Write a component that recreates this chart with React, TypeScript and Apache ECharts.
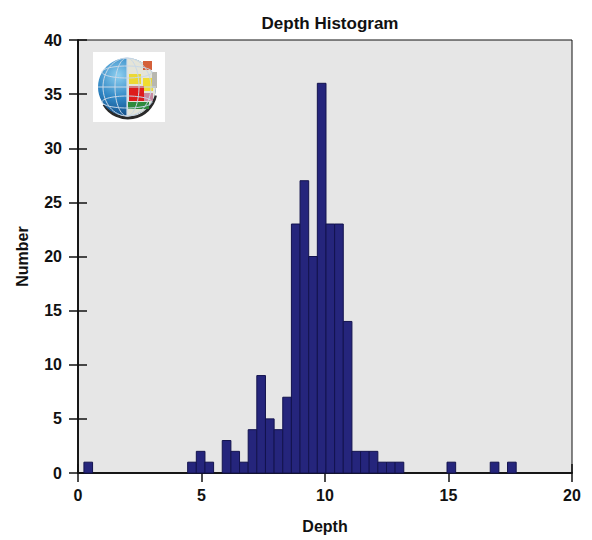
import React, { useEffect, useRef } from "react";
import * as echarts from "echarts";

// Histogram bins: 50 bins of width 0.35 starting at 0.24
const BIN_START = 0.24;
const BIN_WIDTH = 0.35;
const counts = [
  1, 0, 0, 0, 0, 0, 0, 0, 0, 0,
  0, 0, 1, 2, 1, 0, 3, 2, 1, 4,
  9, 5, 4, 7, 23, 27, 20, 36, 23, 23,
  14, 2, 2, 2, 1, 1, 1, 0, 0, 0,
  0, 0, 1, 0, 0, 0, 0, 1, 0, 1,
];
const xTicks = [0, 5, 10, 15, 20];
const yTicks = [0, 5, 10, 15, 20, 25, 30, 35, 40];

const TITLE = "Depth Histogram";
const X_NAME = "Depth";
const Y_NAME = "Number";

export default function App() {
  const ref = useRef<HTMLDivElement>(null);
  useEffect(() => {
    document.body.style.margin = "0";
    const chart = echarts.init(ref.current!, null, { renderer: "svg" });
    const data = counts
      .map((c, i) => [BIN_START + i * BIN_WIDTH, BIN_START + (i + 1) * BIN_WIDTH, c])
      .filter((d) => d[2] > 0);
    const font = "'Liberation Sans', Arial, sans-serif";
    const labelStyle = { color: "#111", fontSize: 16, fontWeight: "bold" as const, fontFamily: font };
    const axisLine = { show: true, lineStyle: { color: "#111", width: 1.5 } };
    const tick = { show: true, inside: false, length: 9, lineStyle: { color: "#111", width: 1.5 } };
    const logoX = 93;
    const logoY = 52;
    chart.setOption({
      animation: false,
      backgroundColor: "#ffffff",
      title: {
        text: TITLE,
        left: 325,
        top: 10,
        textAlign: "center",
        textStyle: { color: "#111", fontSize: 17, fontWeight: "bold", fontFamily: font },
      },
      grid: {
        left: 78,
        right: 20,
        top: 40,
        bottom: 67,
        show: true,
        backgroundColor: "#e6e6e6",
        borderColor: "#111",
        borderWidth: 1,
      },
      xAxis: [
        {
          type: "value",
          min: xTicks[0],
          max: xTicks[xTicks.length - 1],
          interval: 5,
          position: "bottom",
          name: X_NAME,
          nameLocation: "middle",
          nameGap: 45,
          nameTextStyle: labelStyle,
          axisLine,
          axisTick: tick,
          axisLabel: { ...labelStyle, margin: 14 },
          splitLine: { show: false },
        },
        {
          type: "value",
          min: xTicks[0],
          max: xTicks[xTicks.length - 1],
          interval: 5,
          position: "top",
          axisLine,
          axisTick: tick,
          axisLabel: { show: false },
          splitLine: { show: false },
        },
      ],
      yAxis: [
        {
          type: "value",
          min: yTicks[0],
          max: yTicks[yTicks.length - 1],
          interval: 5,
          position: "left",
          name: Y_NAME,
          nameLocation: "middle",
          nameGap: 48,
          nameTextStyle: labelStyle,
          axisLine,
          axisTick: tick,
          axisLabel: { ...labelStyle, margin: 16 },
          splitLine: { show: false },
        },
        {
          type: "value",
          min: yTicks[0],
          max: yTicks[yTicks.length - 1],
          interval: 5,
          position: "right",
          axisLine,
          axisTick: tick,
          axisLabel: { show: false },
          splitLine: { show: false },
        },
      ],
      series: [
        {
          type: "custom",
          xAxisIndex: 0,
          yAxisIndex: 0,
          data,
          renderItem: (params: any, api: any) => {
            const p0 = api.coord([api.value(0), api.value(2)]);
            const p1 = api.coord([api.value(1), 0]);
            return {
              type: "rect",
              shape: { x: p0[0], y: p0[1], width: p1[0] - p0[0], height: p1[1] - p0[1] },
              style: { fill: "#25257c", stroke: "#13134e", lineWidth: 1 },
            };
          },
        },
      ],
      graphic: [
        {
          type: "group",
          x: logoX,
          y: logoY,
          silent: true,
          children: [
            { type: "rect", shape: { x: 0, y: 0, width: 72, height: 70 }, style: { fill: "#ffffff" } },
            { type: "arc", shape: { cx: 35, cy: 38, r: 28, startAngle: 0.2, endAngle: 2.6 }, style: { stroke: "#2a2a2a", lineWidth: 3, fill: "none" } },
            {
              type: "circle",
              shape: { cx: 34, cy: 35, r: 29 },
              style: {
                fill: new echarts.graphic.RadialGradient(0.35, 0.3, 0.8, [
                  { offset: 0, color: "#8fd0f0" },
                  { offset: 0.5, color: "#2f86c4" },
                  { offset: 1, color: "#0c3f78" },
                ]),
              },
            },
            { type: "sector", shape: { cx: 34, cy: 35, r: 29, r0: 0, startAngle: -Math.PI / 2, endAngle: Math.PI / 2 }, style: { fill: "#e4e4d8" } },
            { type: "rect", shape: { x: 50, y: 9, width: 9, height: 9 }, style: { fill: "#d4603a" } },
            { type: "rect", shape: { x: 36, y: 22, width: 12, height: 10 }, style: { fill: "#ecd834" } },
            { type: "rect", shape: { x: 50, y: 26, width: 10, height: 13 }, style: { fill: "#f0dc30" } },
            { type: "rect", shape: { x: 36, y: 34, width: 15, height: 15 }, style: { fill: "#dd1c1c" } },
            { type: "rect", shape: { x: 51, y: 41, width: 9, height: 8 }, style: { fill: "#c88aa0" } },
            { type: "rect", shape: { x: 35, y: 50, width: 21, height: 7 }, style: { fill: "#2f8a3c" } },
            { type: "rect", shape: { x: 59, y: 20, width: 5, height: 16 }, style: { fill: "#b8b8b0" } },
            { type: "ellipse", shape: { cx: 34, cy: 35, rx: 12, ry: 29 }, style: { stroke: "#c8d8e8", lineWidth: 1, fill: "none" } },
            { type: "ellipse", shape: { cx: 34, cy: 35, rx: 24, ry: 29 }, style: { stroke: "#c8d8e8", lineWidth: 1, fill: "none" } },
            { type: "line", shape: { x1: 34, y1: 6, x2: 34, y2: 64 }, style: { stroke: "#d0dce8", lineWidth: 1.2 } },
            { type: "line", shape: { x1: 5, y1: 35, x2: 63, y2: 35 }, style: { stroke: "#c8d8e8", lineWidth: 1 } },
            { type: "ellipse", shape: { cx: 34, cy: 20, rx: 25, ry: 6 }, style: { stroke: "#c8d8e8", lineWidth: 1, fill: "none" } },
            { type: "ellipse", shape: { cx: 34, cy: 50, rx: 25, ry: 6 }, style: { stroke: "#c8d8e8", lineWidth: 1, fill: "none" } },
          ],
        },
      ],
    });
    return () => chart.dispose();
  }, []);
  return <div ref={ref} style={{ width: 592, height: 540 }} />;
}
